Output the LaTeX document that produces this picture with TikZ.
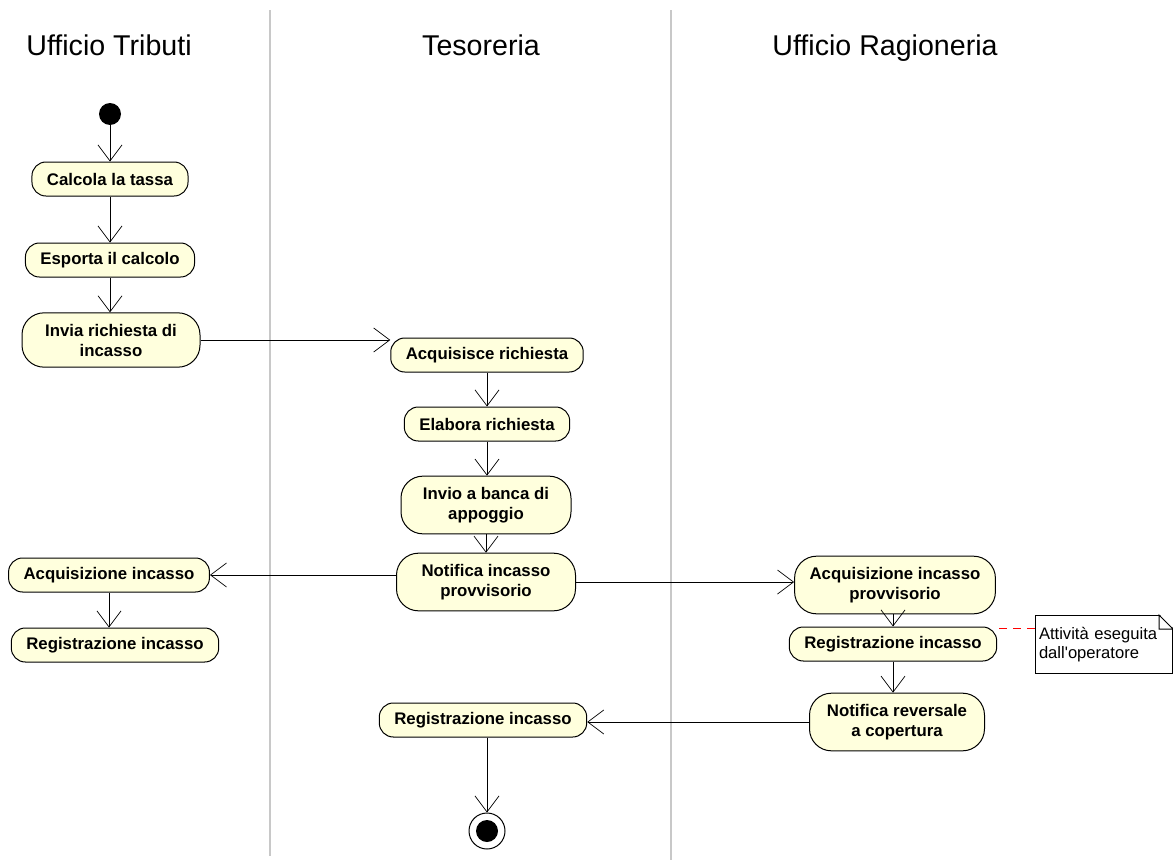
\documentclass[tikz,border=0pt]{standalone}
\usepackage{fontspec}
\setmainfont{Liberation Sans}
\usetikzlibrary{arrows.meta}
\usetikzlibrary{positioning, calc}

\definecolor{actfill}{RGB}{255,255,221}
\definecolor{lanegray}{RGB}{200,200,200}

\tikzset{
  lane/.style={draw=lanegray, line width=0.6pt},
  lanetitle/.style={font=\fontsize{14.3}{16}\selectfont, anchor=base},
  act/.style={draw, fill=actfill, rounded corners=7pt, line width=0.5pt,
    font=\fontsize{8.4}{10}\selectfont\bfseries, align=center,
    inner xsep=7.5pt, inner ysep=4pt, minimum height=17pt},
  acttwo/.style={act, rounded corners=11pt, inner ysep=5.5pt},
  flow/.style={line width=0.5pt, -{Straight Barb[length=8pt,width=12pt,line width=0.35pt]}},
  notebox/.style={draw, line width=0.5pt, fill=white, font=\fontsize{8.3}{9.2}\selectfont,
    align=left, anchor=north west, inner xsep=1.5pt, minimum width=68.5pt,
    minimum height=29pt, text width=65pt},
  notelink/.style={draw=red, line width=0.5pt, dash pattern=on 4pt off 3pt}
}

\begin{document}
\begin{tikzpicture}[x=0.5pt, y=-0.5pt]

\useasboundingbox (0,0) rectangle (1173,862);

% corsie
\draw[lane] (270,10) -- (270,856);
\draw[lane] (671,10) -- (671,860);
\node[lanetitle] (tribT) at (109,55) {Ufficio Tributi};
\node[lanetitle] (tesT) at (481,55) {Tesoreria};
\node[lanetitle] (ragT) at (885,55) {Ufficio Ragioneria};

% Ufficio Tributi
\node[circle, fill=black, inner sep=0pt, minimum size=11pt] (start) at (110,114) {};
\node[act] (calc) at (110,179) {Calcola la tassa};
\node[act] (esp) at (110,260) {Esporta il calcolo};
\node[acttwo, minimum width=89pt] (invia) at (111,340) {Invia richiesta di\\incasso};
\node[act] (acqinc) at (109,575) {Acquisizione incasso};
\node[act] (regtrib) at (115,645) {Registrazione incasso};

% Tesoreria
\node[act] (acqric) at (487,355) {Acquisisce richiesta};
\node[act] (elab) at (487,424) {Elabora richiesta};
\node[acttwo, minimum width=85pt] (banca) at (486,505) {Invio a banca di\\appoggio};
\node[acttwo, minimum width=89.5pt] (notif) at (486,582) {Notifica incasso\\provvisorio};
\node[act] (regtes) at (483,720) {Registrazione incasso};
\node[circle, draw, line width=0.5pt, inner sep=0pt, minimum size=18pt] (stop) at (487,831) {};
\node[circle, fill=black, inner sep=0pt, minimum size=11pt] (stopin) at (stop) {};

% Ufficio Ragioneria
\node[acttwo, minimum width=99pt] (acqprov) at (895,585) {Acquisizione incasso\\provvisorio};
\node[act] (regrag) at (893,644) {Registrazione incasso};
\node[acttwo, minimum width=87.5pt] (rev) at (897,722) {Notifica reversale\\a copertura};

% nota
\node[notebox] (note) at (1035,615) {Attività eseguita\\dall\textquotesingle operatore};
\fill[white] ($(note.north east)+(-14,-1)$) -- ($(note.north east)+(1,-1)$) -- ($(note.north east)+(1,14)$) -- cycle;
\draw[line width=0.5pt] ($(note.north east)+(-14,0)$) -- (note.north east |- 0,629) -- ($(note.north east)+(-14,14)$) -- cycle;
\coordinate (tag) at ($(regrag.north east)+(2,2)$);
\draw[notelink] (tag) -- (tag -| note.west);

% flussi
\draw[flow] (start) -- (calc.north);
\draw[flow] (calc.south) -- (calc.south |- esp.north);
\draw[flow] (esp.south) -- (esp.south |- invia.north);
\draw[flow] (invia.east) -- (invia.east -| acqric.west);
\draw[flow] (acqric.south) -- (acqric.south |- elab.north);
\draw[flow] (elab.south) -- (elab.south |- banca.north);
\draw[flow] (banca.south) -- (banca.south |- notif.north);
\draw[flow] (acqinc.east -| notif.west) -- (acqinc.east);
\draw[flow] (acqinc.south) -- (acqinc.south |- regtrib.north);
\draw[flow] (notif.east) -- (notif.east -| acqprov.west);
\draw[flow] (acqprov.south -| regrag.north) -- (regrag.north);
\draw[flow] (regrag.south) -- (regrag.south |- rev.north);
\draw[flow] (rev.west) -- (rev.west -| regtes.east);
\draw[flow] (regtes.south -| stop.north) -- (stop.north);

\end{tikzpicture}
\end{document}
